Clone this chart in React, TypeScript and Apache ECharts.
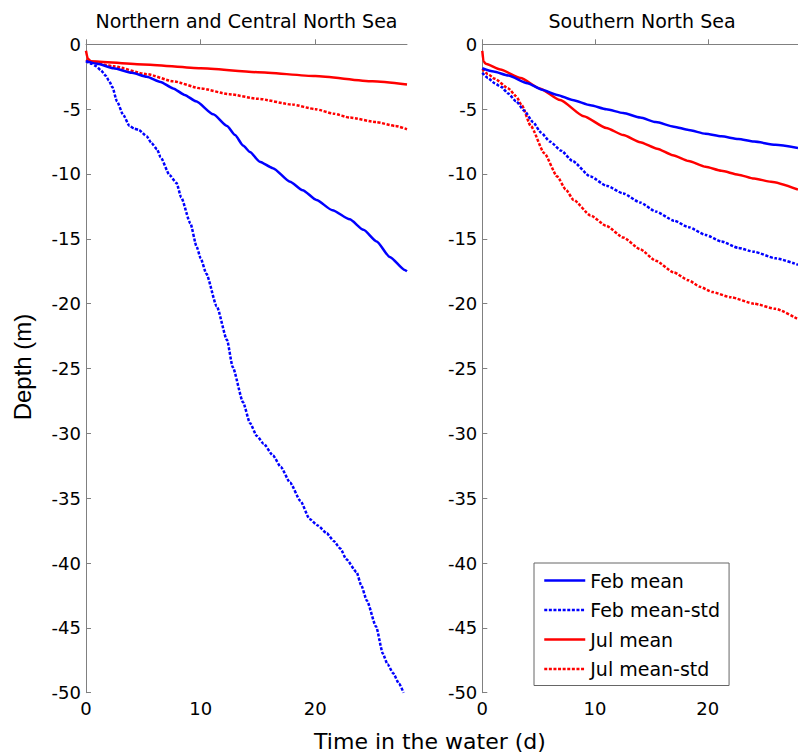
import React, { useEffect, useRef } from "react";
import * as echarts from "echarts";

// ---------- data (time in days, depth in m) ----------
const northFebMean: number[][] = [
  [0, -1.3], [1, -1.5], [2.4, -1.85], [4, -2.2], [5.3, -2.5], [6.5, -2.9], [7.6, -3.4], [8.6, -3.9],
  [9.6, -4.4], [11.1, -5.4], [12.3, -6.3], [13, -7.0], [13.7, -7.8], [14.3, -8.3], [15.15, -9.05],
  [16.3, -9.55], [17.8, -10.6], [18.9, -11.25], [20.1, -12.0], [21.5, -12.8], [23, -13.5], [24.2, -14.3],
  [25.35, -15.2], [26.5, -16.4], [27.8, -17.4], [28, -17.5],
];
const northFebStd: number[][] = [
  [0, -1.3], [0.5, -1.5], [0.9, -1.7], [1.3, -2.0], [1.7, -2.4], [2.0, -2.8], [2.3, -3.3], [2.7, -4.4],
  [3.25, -5.45], [3.8, -6.3], [4.2, -6.5], [4.6, -6.6], [5.3, -7.1], [5.7, -7.6], [6.2, -8.1], [6.5, -8.7],
  [7.3, -10.1], [7.9, -10.7], [8.3, -11.8], [9.1, -13.8], [9.65, -15.6], [10.0, -16.5], [10.5, -17.7],
  [11.4, -20.2], [12.3, -22.8], [12.8, -24.9], [13.7, -27.6], [14.3, -29.2], [14.9, -30.2], [15.5, -30.8],
  [16.3, -31.7], [17.0, -32.6], [17.8, -33.8], [18.7, -35.2], [19.5, -36.6], [20.2, -37.1], [21.0, -37.7],
  [21.6, -38.3], [22.2, -38.9], [22.7, -39.7], [23.6, -40.7], [24.0, -41.7], [24.5, -42.9], [25.3, -44.9],
  [25.9, -47.0], [26.3, -47.8], [26.8, -48.5], [27.3, -49.3], [27.7, -50.0],
];
const northJulMean: number[][] = [
  [0, -0.5], [0.15, -1.1], [0.4, -1.3], [5, -1.55], [10, -1.85], [15, -2.15], [20, -2.45], [25, -2.85], [28, -3.1],
];
const northJulStd: number[][] = [
  [0, -1.2], [0.5, -1.4], [2.4, -1.7], [5.3, -2.3], [7.6, -2.85], [10, -3.4], [12.5, -3.85], [15, -4.2],
  [18, -4.65], [20, -5.0], [21.6, -5.35], [23, -5.65], [25.3, -6.0], [27, -6.3], [28, -6.55],
];

const southFebMean: number[][] = [
  [0, -1.85], [1, -2.1], [2.3, -2.4], [4, -3.0], [5.3, -3.5], [6.65, -3.9], [8, -4.3], [9.6, -4.7],
  [11, -5.0], [12.5, -5.3], [14, -5.65], [15.4, -6.0], [17, -6.35], [18.3, -6.6], [19.8, -6.9], [21.2, -7.1],
  [22.7, -7.3], [24.1, -7.5], [26, -7.75], [28, -8.0],
];
const southFebStd: number[][] = [
  [0, -2.2], [0.5, -2.6], [1.1, -3.0], [1.7, -3.3], [2.3, -3.8], [3, -4.4], [3.7, -5.1], [4.5, -6.0],
  [5.2, -6.8], [6, -7.5], [7, -8.2], [8, -9.0], [9.6, -10.2], [11, -10.9], [12.5, -11.5], [14, -12.2],
  [15.4, -12.9], [17, -13.6], [18.3, -14.1], [19.8, -14.7], [21.2, -15.2], [22.7, -15.7], [24.1, -16.0],
  [26, -16.5], [28, -17.0],
];
const southJulMean: number[][] = [
  [0, -0.5], [0.1, -1.3], [0.3, -1.5], [1.6, -1.95], [3.4, -2.6], [5.1, -3.4], [6.9, -4.3], [9, -5.55],
  [11, -6.45], [12.5, -7.0], [14, -7.55], [15.5, -8.05], [16.9, -8.55], [18.3, -9.0], [19.8, -9.45],
  [21.2, -9.75], [22.7, -10.05], [24.1, -10.35], [25.6, -10.6], [28, -11.2],
];
const southJulStd: number[][] = [
  [0, -1.9], [0.5, -2.3], [1.1, -2.65], [2.3, -3.4], [3, -4.0], [3.5, -4.7], [4.3, -6.3], [5.5, -8.4],
  [6.65, -10.2], [7.4, -11.2], [8.1, -12.0], [9.6, -13.2], [11, -14.0], [12.5, -14.9], [14, -15.8],
  [15.4, -16.7], [17, -17.6], [18.3, -18.2], [19.3, -18.7], [20.4, -19.1], [22, -19.5], [24.1, -20.0],
  [26, -20.4], [28, -21.2],
];

const seriesNames = ["Feb mean", "Feb mean-std", "Jul mean", "Jul mean-std"];
const panelTitles = ["Northern and Central North Sea", "Southern North Sea"];
const xTicks = [0, 10, 20];
const yTicks = [0, -5, -10, -15, -20, -25, -30, -35, -40, -45, -50];

const BLUE = "#0000ff";
const RED = "#ff0000";
const AXIS = "#808080";
const FONT = "DejaVu Sans";

export default function App() {
  const ref = useRef<HTMLDivElement>(null);
  useEffect(() => {
    if (!ref.current) return;
    const chart = echarts.init(ref.current, undefined, { renderer: "svg" });

    const grids = [
      { left: 86, top: 44.3, width: 321, height: 648.4 },
      { left: 482.3, top: 44.3, width: 320, height: 648.4 },
    ];

    const mkX = (gi: number) => ({
      type: "value",
      gridIndex: gi,
      min: 0,
      max: 28,
      interval: 10,
      axisLine: { show: true, lineStyle: { color: AXIS, width: 1 } },
      axisTick: { show: true, inside: true, length: 5, lineStyle: { color: AXIS }, customValues: xTicks },
      axisLabel: { color: "#000", fontSize: 18, fontFamily: FONT, margin: 7, customValues: xTicks },
      splitLine: { show: false },
    });
    const mkY = (gi: number) => ({
      type: "value",
      gridIndex: gi,
      min: -50,
      max: 0,
      interval: 5,
      axisLine: { show: true, lineStyle: { color: AXIS, width: 1 } },
      axisTick: { show: true, inside: true, length: 5, lineStyle: { color: AXIS }, customValues: yTicks },
      axisLabel: { color: "#000", fontSize: 18, fontFamily: FONT, margin: 5, customValues: yTicks },
      splitLine: { show: false },
    });

    const dotted = [3, 1.6];
    const mkSeries = (gi: number, data: number[][][]) =>
      data.map((d, i) => ({
        type: "line",
        name: seriesNames[i],
        xAxisIndex: gi,
        yAxisIndex: gi,
        data: d,
        showSymbol: false,
        symbol: "none",
        smooth: 0.2,
        smoothMonotone: "x",
        clip: true,
        lineStyle: {
          color: i < 2 ? BLUE : RED,
          width: 2.5,
          type: i % 2 === 1 ? dotted : "solid",
        },
        itemStyle: { color: i < 2 ? BLUE : RED },
        z: 10 - i,
      }));

    chart.setOption({
      animation: false,
      backgroundColor: "#fff",
      grid: grids,
      xAxis: [mkX(0), mkX(1)],
      yAxis: [mkY(0), mkY(1)],
      legend: {
        data: seriesNames,
        orient: "vertical",
        left: 534,
        top: 563,
        padding: [8, 9, 7, 9],
        itemGap: 10.5,
        itemWidth: 41,
        itemHeight: 14,
        borderColor: "#666",
        borderWidth: 1,
        borderRadius: 0,
        backgroundColor: "#fff",
        textStyle: { color: "#000", fontSize: 19, fontFamily: FONT, padding: [0, 0, 0, 0] },
        itemStyle: { color: "rgba(0,0,0,0)", borderColor: "rgba(0,0,0,0)", borderWidth: 0, opacity: 0 },
        lineStyle: { width: 2.5 },
      },
      series: [
        ...mkSeries(0, [northFebMean, northFebStd, northJulMean, northJulStd]),
        ...mkSeries(1, [southFebMean, southFebStd, southJulMean, southJulStd]),
      ],
      graphic: [
        {
          type: "text",
          x: 246.5,
          y: 21,
          style: { text: panelTitles[0], fill: "#000", font: `19px "${FONT}"`, textAlign: "center", textVerticalAlign: "middle" },
        },
        {
          type: "text",
          x: 642,
          y: 21,
          style: { text: panelTitles[1], fill: "#000", font: `19px "${FONT}"`, textAlign: "center", textVerticalAlign: "middle" },
        },
        {
          type: "text",
          x: 430,
          y: 741,
          style: { text: "Time in the water (d)", fill: "#000", font: `22px "${FONT}"`, textAlign: "center", textVerticalAlign: "middle" },
        },
        {
          type: "text",
          x: 22,
          y: 367,
          rotation: Math.PI / 2,
          style: { text: "Depth (m)", fill: "#000", font: `24px "Liberation Sans"`, textAlign: "center", textVerticalAlign: "middle" },
        },
      ],
    });
    return () => chart.dispose();
  }, []);

  return (
    <div
      ref={ref}
      style={{ position: "absolute", left: 0, top: 0, width: 798, height: 753, background: "#fff" }}
    />
  );
}
